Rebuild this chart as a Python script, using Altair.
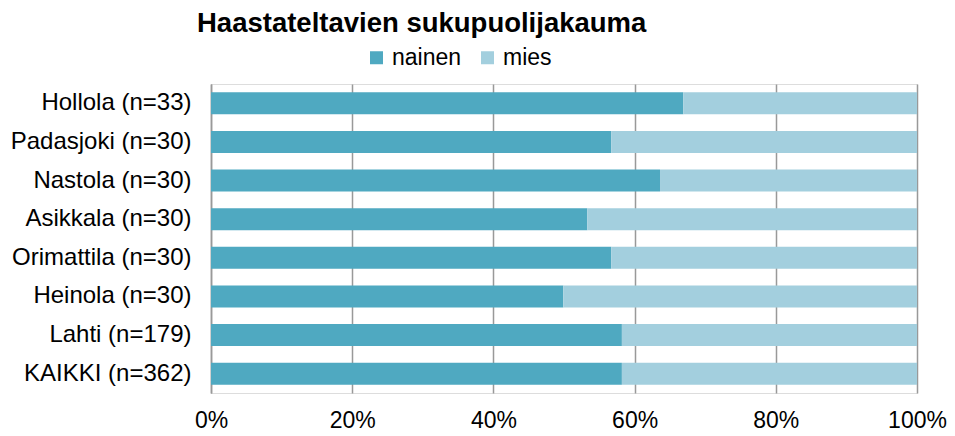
import altair as alt
import pandas as pd

categories = ["Hollola (n=33)", "Padasjoki (n=30)", "Nastola (n=30)", "Asikkala (n=30)",
              "Orimattila (n=30)", "Heinola (n=30)", "Lahti (n=179)", "KAIKKI (n=362)"]
nainen = [0.669, 0.567, 0.636, 0.533, 0.567, 0.499, 0.582, 0.582]
mies = [round(1 - v, 3) for v in nainen]
series = ["nainen", "mies"]
colors = ["#4FA9C1", "#A3CFDE"]

rows = []
for c, n, m in zip(categories, nainen, mies):
    rows.append({"alue": c, "sukupuoli": "nainen", "osuus": n, "jarj": 0})
    rows.append({"alue": c, "sukupuoli": "mies", "osuus": m, "jarj": 1})
df = pd.DataFrame(rows)

FONT = "Liberation Sans"

chart = alt.Chart(df).mark_bar(size=22).encode(
    y=alt.Y("alue:N", sort=categories, title=None,
            scale=alt.Scale(paddingInner=0.43, paddingOuter=0.215),
            axis=alt.Axis(labelFontSize=24, labelFont=FONT, labelColor="#000000",
                          labelPadding=20, labelLimit=400, ticks=False, domain=True,
                          domainColor="#999999", domainWidth=1.5, grid=False)),
    x=alt.X("osuus:Q", stack="normalize", title=None,
            scale=alt.Scale(domain=[0, 1], nice=False),
            axis=alt.Axis(format=".0%", values=[0, 0.2, 0.4, 0.6, 0.8, 1.0],
                          labelFontSize=23, labelFont=FONT, labelColor="#000000",
                          labelPadding=16, labelFlush=False, ticks=False, domain=False,
                          grid=True, gridColor="#999999", gridWidth=1.5)),
    color=alt.Color("sukupuoli:N", sort=series,
                    scale=alt.Scale(domain=series, range=colors),
                    legend=alt.Legend(title=None, orient="none", direction="horizontal",
                                      legendX=154, legendY=-38, symbolType="square",
                                      symbolSize=169, symbolStrokeWidth=0,
                                      labelFontSize=23, labelFont=FONT,
                                      labelColor="#000000", labelOffset=4,
                                      columnPadding=14)),
    order=alt.Order("jarj:Q"),
).properties(
    width=706,
    height=309,
    title=alt.TitleParams("Haastateltavien sukupuolijakauma", anchor="start",
                          frame="group", dx=-14, offset=9, fontSize=27.5,
                          font=FONT, fontWeight="bold", color="#000000"),
    padding={"left": 203, "top": 76, "right": 30, "bottom": 42},
    autosize=alt.AutoSizeParams(type="none"),
).configure_view(stroke=None).configure(background="#ffffff")

chart.save("out.html", embed_options={"renderer": "svg", "actions": False})
